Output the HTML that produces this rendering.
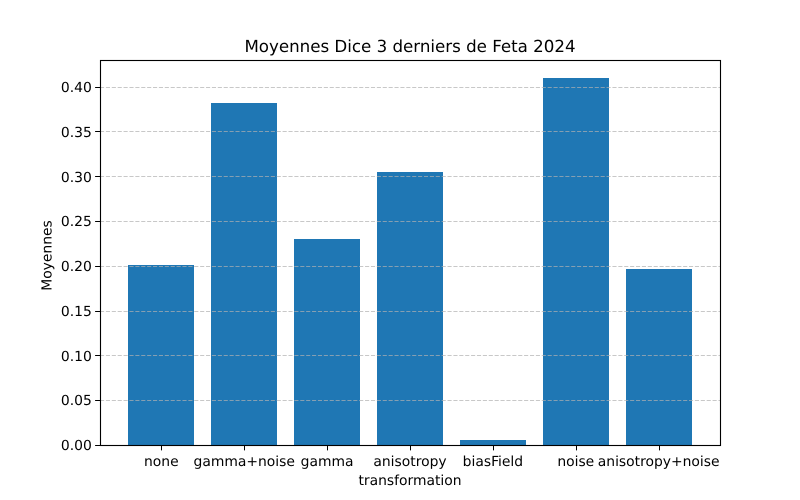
<!DOCTYPE html>
<html lang="fr">
<head>
<meta charset="utf-8">
<title>Moyennes Dice 3 derniers de Feta 2024</title>
<style>
html,body{margin:0;padding:0;background:#fff;}
svg{display:block;}
text{font-family:"DejaVu Sans",sans-serif;fill:#000;text-rendering:geometricPrecision;}
</style>
</head>
<body>
<svg id="chart" xmlns="http://www.w3.org/2000/svg" width="800" height="500" viewBox="0 0 800 500">
  <rect x="0" y="0" width="800" height="500" fill="#ffffff"/>
  <g id="bars"></g>
  <g id="grid"></g>
  <g id="frame"></g>
  <g id="xticks"></g>
  <g id="yticks"></g>
  <text x="410" y="52" text-anchor="middle" font-size="16.67">Moyennes Dice 3 derniers de Feta 2024</text>
  <text x="410" y="485" text-anchor="middle" font-size="13.89">transformation</text>
  <text transform="translate(51.5,255.5) rotate(-90)" text-anchor="middle" font-size="13.89">Moyennes</text>
</svg>
<script>
const categories = ["none", "gamma+noise", "gamma", "anisotropy", "biasField", "noise", "anisotropy+noise"];
const seriesValues = [0.2013, 0.3825, 0.2302, 0.3053, 0.0056, 0.4100, 0.1968];
const yTickValues = [0, 0.05, 0.10, 0.15, 0.20, 0.25, 0.30, 0.35, 0.40];
const yTickLabels = ["0.00", "0.05", "0.10", "0.15", "0.20", "0.25", "0.30", "0.35", "0.40"];

const NS = "http://www.w3.org/2000/svg";
const plot = { left: 100, right: 720, top: 60, bottom: 445 };
const yDomainMax = 0.4305;
const xDomainMin = -0.74;
const xDomainMax = 6.74;
const barWidth = 0.8;

function xScale(v) {
  return plot.left + (v - xDomainMin) / (xDomainMax - xDomainMin) * (plot.right - plot.left);
}
function yScale(v) {
  return plot.bottom - v / yDomainMax * (plot.bottom - plot.top);
}
// Pixel row a horizontal tick or gridline snaps to.
function tickRow(v) {
  return Math.floor(plot.bottom + 0.42 - v * 896);
}
function make(tag, attrs, parent) {
  const el = document.createElementNS(NS, tag);
  for (const k in attrs) el.setAttribute(k, attrs[k]);
  parent.appendChild(el);
  return el;
}

const barsG = document.getElementById("bars");
const gridG = document.getElementById("grid");
const frameG = document.getElementById("frame");
const xTicksG = document.getElementById("xticks");
const yTicksG = document.getElementById("yticks");

categories.forEach(function (name, i) {
  const x0 = Math.round(xScale(i - barWidth / 2));
  const x1 = Math.round(xScale(i + barWidth / 2));
  const yTop = Math.round(yScale(seriesValues[i]));
  const bar = make("rect", { x: x0, y: yTop, width: x1 - x0, height: plot.bottom - yTop, fill: "#1f77b4" }, barsG);
  
  

  const cx = Math.round(xScale(i)) + 0.5;
  const tick = make("line", { x1: cx, x2: cx, y1: plot.bottom, y2: plot.bottom + 5.4, stroke: "#000", "stroke-width": 1 }, xTicksG);
  
  

  const label = make("text", { x: xScale(i), y: 466, "text-anchor": "middle", "font-size": 13.89 }, xTicksG);
  label.textContent = name;
  
  
});

yTickValues.forEach(function (v, i) {
  const row = tickRow(v);
  const y = row + 0.5;
  if (v !== 0) {
    const line = make("line", { x1: plot.left, x2: plot.right, y1: y, y2: y, stroke: "#b0b0b0", "stroke-opacity": 0.7, "stroke-width": 1.11, "stroke-dasharray": "4.11 1.78" }, gridG);
    
    
  }
  const tick = make("line", { x1: plot.left - 4.9, x2: plot.left, y1: y, y2: y, stroke: "#000", "stroke-width": 1 }, yTicksG);
  
  

  const label = make("text", { x: 91.8, y: Math.round(yScale(v)) + 5, "text-anchor": "end", "font-size": 13.89 }, yTicksG);
  label.textContent = yTickLabels[i];
  
  
});

const border = make("rect", { x: plot.left + 0.5, y: plot.top + 0.5, width: plot.right - plot.left, height: plot.bottom - plot.top, fill: "none", stroke: "#000", "stroke-width": 1.11 }, frameG);


</script>
</body>
</html>
